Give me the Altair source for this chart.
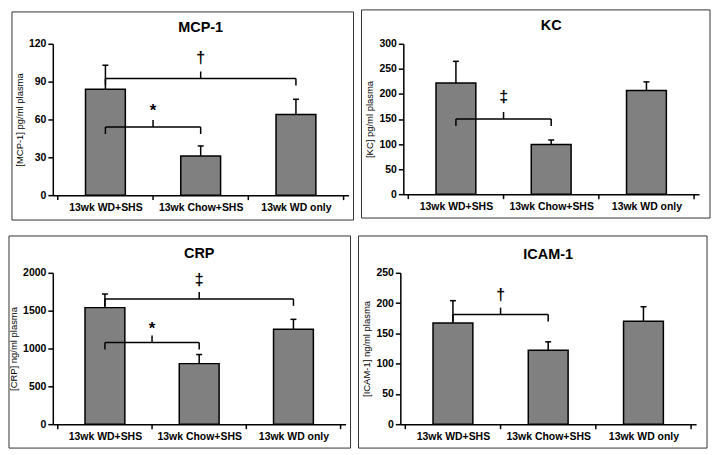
import json
import altair as alt
import pandas as pd

FONT = "Liberation Sans"

categories = ["13wk WD+SHS", "13wk Chow+SHS", "13wk WD only"]
positions = [1, 2, 3]
band_edges = [0.5, 1.5, 2.5, 3.5]

panel_titles = ["MCP-1", "KC", "CRP", "ICAM-1"]
y_titles = ["[MCP-1] pg/ml plasma", "[KC] pg/ml plasma",
            "[CRP] ng/ml plasma", "[ICAM-1] ng/ml plasma"]
y_max = [120, 300, 2000, 250]
y_step = [30, 50, 500, 50]

# bar means and top of error bars
mcp1_mean = [84, 31, 64]
mcp1_upper = [103, 39, 76]
kc_mean = [222, 99, 207]
kc_upper = [265, 108, 224]
crp_mean = [1540, 800, 1255]
crp_upper = [1720, 920, 1385]
icam1_mean = [167, 122, 170]
icam1_upper = [204, 136, 194]

# significance brackets
mcp1_br_start = [1, 1]
mcp1_br_end = [3, 2]
mcp1_br_level = [92.5, 54]
mcp1_br_symbol = ["†", "*"]
mcp1_br_sym_level = [108.7, 70.8]

kc_br_start = [1]
kc_br_end = [2]
kc_br_level = [150]
kc_br_symbol = ["‡"]
kc_br_sym_level = [194]

crp_br_start = [1, 1]
crp_br_end = [3, 2]
crp_br_level = [1655, 1080]
crp_br_symbol = ["‡", "*"]
crp_br_sym_level = [1901, 1325]

icam1_br_start = [1]
icam1_br_end = [2]
icam1_br_level = [181]
icam1_br_symbol = ["†"]
icam1_br_sym_level = [214]

label_expr = json.dumps(categories) + "[datum.value - 1]"


def make_panel(idx, means, uppers, br_start, br_end, br_level, br_symbol,
               br_sym_level, W, H, L, R, T, B, title_y):
    df = pd.DataFrame({"pos": positions, "mean": means, "upper": uppers})
    br = pd.DataFrame({"x1": br_start, "x2": br_end, "level": br_level,
                       "symbol": br_symbol, "sym_level": br_sym_level})
    edges = pd.DataFrame({"edge": band_edges})
    one = pd.DataFrame({"k": [0]})

    xscale = alt.Scale(domain=[0.5, 3.5], nice=False, zero=False)
    yscale = alt.Scale(domain=[0, y_max[idx]], nice=False)
    xaxis = alt.Axis(values=positions, labelExpr=label_expr, title=None,
                     grid=False, ticks=False, labelFontSize=10.5,
                     labelFontWeight="bold", labelPadding=7,
                     labelOverlap=False, labelFlush=False,
                     domainColor="black", domainWidth=1.5,
                     labelColor="black")
    yaxis = alt.Axis(values=list(range(0, y_max[idx] + 1, y_step[idx])),
                     format="d", labelOverlap=False, labelFlush=False,
                     title=y_titles[idx], grid=False, tickSize=5,
                     tickColor="black", tickWidth=1.5, domainColor="black",
                     domainWidth=1.5, labelFontSize=10.5,
                     labelFontWeight="bold", labelPadding=2,
                     labelColor="black", titleFontSize=9.5,
                     titleFontWeight="normal", titlePadding=4,
                     titleColor="black")

    def X(field):
        return alt.X(field, scale=xscale, axis=xaxis)

    def Y(field):
        return alt.Y(field, scale=yscale, axis=yaxis)

    frame = alt.Chart(one).mark_rect(
        fill="white", fillOpacity=0, stroke="#333333", strokeWidth=1
    ).encode(x=alt.value(-L), x2=alt.value(W + R),
             y=alt.value(-T), y2=alt.value(H + B))

    bars = alt.Chart(df).mark_bar(
        size=40, color="#808080", stroke="black", strokeWidth=1.5
    ).encode(x=X("pos:Q"), y=Y("mean:Q"))

    err = alt.Chart(df).mark_rule(color="black", strokeWidth=1.5).encode(
        x=X("pos:Q"), y=Y("mean:Q"), y2="upper:Q")
    cap = alt.Chart(df).mark_rule(
        color="black", strokeWidth=1.5, xOffset=-3, x2Offset=3
    ).encode(x=X("pos:Q"), x2="pos:Q", y=Y("upper:Q"))

    edge_ticks = alt.Chart(edges).mark_rule(color="black", strokeWidth=1.5).encode(
        x=X("edge:Q"), y=alt.value(H), y2=alt.value(H + 5))

    br_h = alt.Chart(br).mark_rule(color="black", strokeWidth=1.5).encode(
        x=X("x1:Q"), x2="x2:Q", y=Y("level:Q"))
    br_ends = alt.Chart(br).transform_fold(
        ["x1", "x2"], as_=["end", "xe"]
    ).mark_rule(color="black", strokeWidth=1.5, y2Offset=7).encode(
        x=X("xe:Q"), y=Y("level:Q"), y2="level:Q")
    br_mid = alt.Chart(br).transform_calculate(
        mid="(datum.x1 + datum.x2) / 2"
    ).mark_rule(color="black", strokeWidth=1.5, y2Offset=-7).encode(
        x=X("mid:Q"), y=Y("level:Q"), y2="level:Q")
    sym = alt.Chart(br).transform_calculate(
        mid="(datum.x1 + datum.x2) / 2"
    ).transform_filter("datum.symbol != '*'").mark_text(
        fontSize=16, fontWeight="bold", baseline="middle", align="center",
        color="black"
    ).encode(x=X("mid:Q"), y=Y("sym_level:Q"), text="symbol:N")
    star = alt.Chart(br).transform_calculate(
        mid="(datum.x1 + datum.x2) / 2"
    ).transform_filter("datum.symbol == '*'").mark_text(
        fontSize=17, fontWeight="bold", baseline="middle", align="center",
        color="black", dy=5
    ).encode(x=X("mid:Q"), y=Y("sym_level:Q"), text="symbol:N")

    title = alt.Chart(one).mark_text(
        text=panel_titles[idx], fontSize=14.5, fontWeight="bold",
        baseline="alphabetic", align="center", color="black"
    ).encode(x=alt.value(W / 2), y=alt.value(title_y))

    return alt.layer(frame, bars, err, cap, edge_ticks, br_h, br_ends, br_mid,
                     sym, star, title).properties(width=W, height=H)


p1 = make_panel(0, mcp1_mean, mcp1_upper, mcp1_br_start, mcp1_br_end,
                mcp1_br_level, mcp1_br_symbol, mcp1_br_sym_level,
                W=297, H=152, L=41, R=5, T=32, B=25, title_y=-12)
p2 = make_panel(1, kc_mean, kc_upper, kc_br_start, kc_br_end,
                kc_br_level, kc_br_symbol, kc_br_sym_level,
                W=297, H=151, L=42, R=11, T=34, B=24, title_y=-14)
p3 = make_panel(2, crp_mean, crp_upper, crp_br_start, crp_br_end,
                crp_br_level, crp_br_symbol, crp_br_sym_level,
                W=294, H=152, L=44, R=5, T=37, B=24, title_y=-15)
p4 = make_panel(3, icam1_mean, icam1_upper, icam1_br_start, icam1_br_end,
                icam1_br_level, icam1_br_symbol, icam1_br_sym_level,
                W=297, H=152, L=42, R=11, T=37, B=24, title_y=-14)

chart = alt.vconcat(
    alt.hconcat(p1, p2, spacing=6),
    alt.hconcat(p3, p4, spacing=6),
    spacing=14,
).properties(padding=0).configure(font=FONT).configure_view(stroke=None)

chart.save("out.html", embed_options={"renderer": "svg", "actions": False})
